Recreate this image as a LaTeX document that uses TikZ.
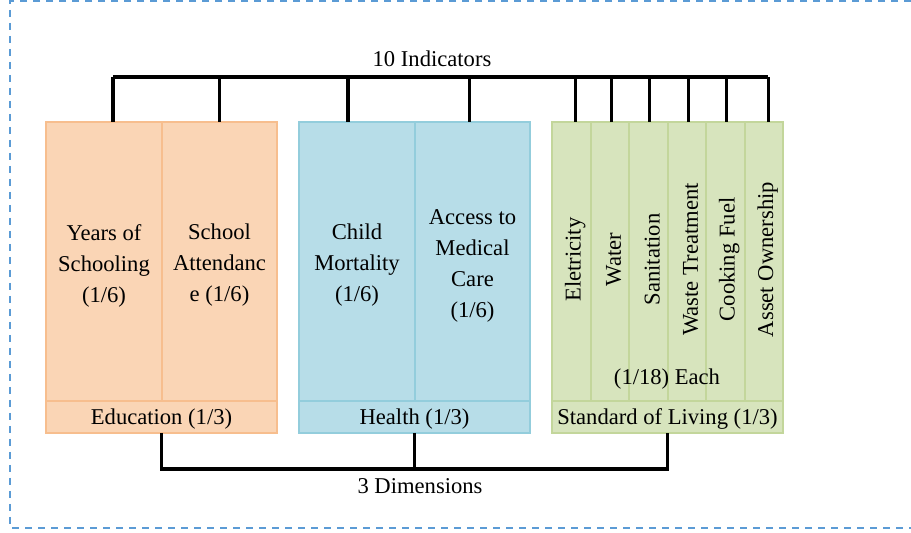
\documentclass[tikz,border=0pt]{standalone}
\usepackage{fontspec}
\setmainfont{Liberation Serif}
\usetikzlibrary{calc}

\definecolor{eduFill}{RGB}{250,213,181}
\definecolor{eduLine}{RGB}{247,190,142}
\definecolor{hltFill}{RGB}{183,221,232}
\definecolor{hltLine}{RGB}{147,205,220}
\definecolor{livFill}{RGB}{215,228,189}
\definecolor{livLine}{RGB}{195,214,155}
\definecolor{frameCol}{RGB}{91,155,213}

\def\px{0.5pt}

\tikzset{
  cell/.style={draw, line width=1pt, inner sep=0pt, outer sep=0pt, anchor=north west,
               align=center, minimum height=279*\px},
  edu/.style={cell, fill=eduFill, draw=eduLine},
  hlt/.style={cell, fill=hltFill, draw=hltLine},
  liv/.style={cell, fill=livFill, draw=livLine},
  txt/.style={align=center, inner sep=0pt},
  bracket/.style={line width=1.6pt, black},
  frame/.style={line width=1pt, frameCol, dash pattern=on 3.5pt off 3pt}
}

\begin{document}
\begin{tikzpicture}[x=\px, y=-\px, font=\fontsize{11.3}{15.5}\selectfont]
\useasboundingbox (0,0) rectangle (911,533);

% --- Dashed frame (right side is cut off) ---
\draw[frame] (911,1) -- (10,1) -- (10,528) -- (911,528);

% --- Education (two indicators) ---
\node[edu, minimum width=116*\px] (yrs) at (46,122) {};
\node[edu, minimum width=115*\px] (att) at (162,122) {};
\node[txt] (yrs txt) at ([shift={(0,4)}]yrs.center) {Years of\\Schooling\\(1/6)};
\node[txt] (att txt) at ([shift={(0,4)}]att.center) {School\\Attendanc\\e (1/6)};
\node[edu, minimum width=231*\px, minimum height=32*\px] (edu) at (46,401) {};
\node (edu txt) at ([shift={(0,2)}]edu.center) {Education (1/3)};

% --- Health (two indicators) ---
\node[hlt, minimum width=116*\px] (chm) at (299,122) {};
\node[hlt, minimum width=115*\px] (acc) at (415,122) {};
\node[txt] (chm txt) at ([shift={(0,4)}]chm.center) {Child\\Mortality\\(1/6)};
\node[txt] (acc txt) at ([shift={(0,4)}]acc.center) {Access to\\Medical\\Care\\(1/6)};
\node[hlt, minimum width=231*\px, minimum height=32*\px] (hlt) at (299,401) {};
\node (hlt txt) at ([shift={(0,2)}]hlt.center) {Health (1/3)};

% --- Standard of living (six indicators, text turned) ---
\def\colw{38.5}
\foreach \n/\t [count=\i from 0] in {ele/Eletricity, wat/Water, san/Sanitation,
    wst/Waste Treatment, ckf/Cooking Fuel, ast/Asset Ownership} {
  \node[liv, minimum width=\colw*\px] (\n) at ({552+\i*\colw},122) {};
  \node[rotate=90] (\n txt) at ([shift={(4,-2)}]\n.center) {\t};
}
\node (each) at (667,379) {(1/18) Each};
\node[liv, minimum width=231*\px, minimum height=32*\px] (liv) at (552,401) {};
\node (liv txt) at ([shift={(0,2)}]liv.center) {Standard of Living (1/3)};

% --- Top bracket: 10 indicators ---
\coordinate (indbar) at (0,77);
\foreach \n/\dx in {yrs/9, att/0, chm/-9, acc/-3, ele/4.5, wat/2, san/1.5, wst/2, ckf/1.5, ast/4.5} {
  \coordinate (tip) at ([shift={(\dx,0)}]\n.north);
  \draw[bracket] (tip) -- (tip |- indbar);
}
\coordinate (barL) at ($(yrs.north)+(9,0)$);
\coordinate (barR) at ($(ast.north)+(4.5,0)$);
\draw[bracket] (barL |- indbar) -- (barR |- indbar);
\node (ind) at (432,59) {10 Indicators};

% --- Bottom bracket: 3 dimensions ---
\coordinate (dimbar) at (0,469);
\draw[bracket] (edu.south) |- (dimbar -| liv.south) -- (liv.south);
\draw[bracket] (hlt.south) -- (hlt.south |- dimbar);
\node (dim) at (420,486) {3 Dimensions};

\end{tikzpicture}
\end{document}
